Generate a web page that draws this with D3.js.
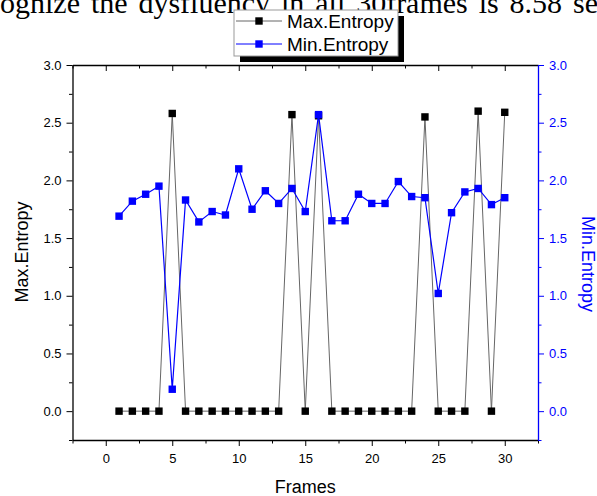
<!DOCTYPE html>
<html>
  <head>
    <meta charset="utf-8">
    <script src="https://d3js.org/d3.v7.min.js"></script>
    <title>Max / Min Entropy</title>
    <style>
      body { margin: 0; background: #fff; }
      svg { display: block; }
      .tick text { font-family: "Liberation Sans", Arial, sans-serif; font-size: 13px; }
    </style>
  </head>
  <body>
    <svg width="597" height="496"></svg>
    <script>
      // data
      const frames = [1, 2, 3, 4, 5, 6, 7, 8, 9, 10, 11, 12, 13, 14, 15,
                      16, 17, 18, 19, 20, 21, 22, 23, 24, 25, 26, 27, 28, 29, 30];
      const maxEntropy = [0, 0, 0, 0, 2.58, 0, 0, 0, 0, 0, 0, 0, 0, 2.57, 0,
                          2.56, 0, 0, 0, 0, 0, 0, 0, 2.55, 0, 0, 0, 2.60, 0, 2.59];
      const minEntropy = [1.69, 1.82, 1.88, 1.95, 0.19, 1.83, 1.64, 1.73, 1.70, 2.10, 1.75, 1.91, 1.80, 1.93, 1.73,
                          2.57, 1.65, 1.65, 1.88, 1.80, 1.80, 1.99, 1.86, 1.85, 1.02, 1.72, 1.90, 1.93, 1.79, 1.85];
      const xTicks = [0, 5, 10, 15, 20, 25, 30];
      const yTicks = [0, 0.5, 1.0, 1.5, 2.0, 2.5, 3.0];
      const seriesNames = ['Max.Entropy', 'Min.Entropy'];
      const topLine = ['ognize', 'the', 'dysfluency', 'in', 'all', '30frames', 'is', '8.58', 'se'];

      const blue = '#0000ff';
      const sans = '"Liberation Sans", Arial, sans-serif';
      const plot = { left: 72.5, right: 538, top: 65, bottom: 440 };

      const svg = d3.select('svg');

      // clipped line of body text above the figure
      const lineG = svg.append('g');
      const words = lineG.selectAll('text').data(topLine)
        .enter().append('text')
          .attr('y', 13)
          .style('font-family', '"Liberation Serif", "Times New Roman", serif')
          .style('font-size', '30px')
          .text(d => d);
      const widths = [];
      words.each(function() { widths.push(this.getComputedTextLength()); });
      const gap = (598 - d3.sum(widths)) / (topLine.length - 1);
      let cx = 0;
      words.attr('x', (d, i) => { const v = cx; cx += widths[i] + gap; return v; });

      const x = d3.scaleLinear().domain([-2.5, 32.5]).range([plot.left, plot.right]);
      const yL = d3.scaleLinear().domain([-0.25, 3.0]).range([plot.bottom, plot.top]);
      const yR = d3.scaleLinear().domain([-0.25, 3.0]).range([plot.bottom, plot.top]);

      const xMinor = d3.range(-2.5, 33, 2.5).filter(v => v % 5 !== 0);
      const yMinor = d3.range(-0.25, 3.01, 0.25).filter(v => Math.abs(v * 2 - Math.round(v * 2)) > 1e-6);

      function minorAxis(g, axis, color) {
        g.call(axis.tickFormat(''));
        g.select('.domain').remove();
        g.selectAll('line').attr('stroke', color);
      }

      // bottom axis
      const bottomG = svg.append('g').attr('transform', `translate(0,${plot.bottom})`);
      bottomG.call(d3.axisBottom(x).tickValues(xTicks).tickSize(6).tickSizeOuter(0).tickPadding(8).tickFormat(d3.format('d')));
      bottomG.append('g').call(g => minorAxis(g, d3.axisBottom(x).tickValues(xMinor).tickSize(3.5), '#000'));

      // top axis, ticks inward
      const topG = svg.append('g').attr('transform', `translate(0,${plot.top})`);
      topG.call(d3.axisTop(x).tickValues(xTicks).tickSize(-6).tickSizeOuter(0).tickFormat(''));
      topG.append('g').call(g => minorAxis(g, d3.axisTop(x).tickValues(xMinor).tickSize(-3.5), '#000'));

      // left axis
      const leftG = svg.append('g').attr('transform', `translate(${plot.left},0)`);
      leftG.call(d3.axisLeft(yL).tickValues(yTicks).tickSize(6).tickSizeOuter(0).tickPadding(5).tickFormat(d3.format('.1f')));
      leftG.append('g').call(g => minorAxis(g, d3.axisLeft(yL).tickValues(yMinor).tickSize(3.5), '#000'));

      // right axis (blue)
      const rightG = svg.append('g').attr('transform', `translate(${plot.right},0)`);
      rightG.call(d3.axisRight(yR).tickValues(yTicks).tickSize(6).tickSizeOuter(0).tickPadding(5).tickFormat(d3.format('.1f')));
      rightG.selectAll('.domain, line').attr('stroke', blue);
      rightG.selectAll('text').attr('fill', blue);
      rightG.append('g').call(g => minorAxis(g, d3.axisRight(yR).tickValues(yMinor).tickSize(3.5), blue));

      svg.selectAll('.domain').attr('stroke-width', 1.3);

      // axis titles
      svg.append('text')
          .attr('x', (plot.left + plot.right) / 2)
          .attr('y', 493)
          .attr('text-anchor', 'middle')
          .style('font-family', sans).style('font-size', '18px')
          .text('Frames');
      svg.append('text')
          .attr('transform', 'translate(27.5,252) rotate(-90)')
          .attr('text-anchor', 'middle')
          .style('font-family', sans).style('font-size', '18px')
          .text(seriesNames[0]);
      svg.append('text')
          .attr('transform', 'translate(581.5,264) rotate(90)')
          .attr('text-anchor', 'middle')
          .attr('fill', blue)
          .style('font-family', sans).style('font-size', '18px')
          .text(seriesNames[1]);

      // series
      const maxData = frames.map((f, i) => ({ f, v: maxEntropy[i] }));
      const minData = frames.map((f, i) => ({ f, v: minEntropy[i] }));

      const lineL = d3.line().x(d => x(d.f)).y(d => yL(d.v));
      const lineR = d3.line().x(d => x(d.f)).y(d => yR(d.v));

      const maxG = svg.append('g');
      maxG.append('path').datum(maxData)
          .attr('d', lineL).attr('fill', 'none').attr('stroke', '#666').attr('stroke-width', 1);
      maxG.selectAll('rect').data(maxData)
        .enter().append('rect')
          .attr('x', d => x(d.f) - 3.7).attr('y', d => yL(d.v) - 3.7)
          .attr('width', 7.4).attr('height', 7.4)
          .attr('fill', '#000');

      const minG = svg.append('g');
      minG.append('path').datum(minData)
          .attr('d', lineR).attr('fill', 'none').attr('stroke', blue).attr('stroke-width', 1.2);
      minG.selectAll('rect').data(minData)
        .enter().append('rect')
          .attr('x', d => x(d.f) - 3.7).attr('y', d => yR(d.v) - 3.7)
          .attr('width', 7.4).attr('height', 7.4)
          .attr('fill', blue);

      // legend with drop shadow
      const legendG = svg.append('g').attr('transform', 'translate(234,10)');
      legendG.append('rect')
          .attr('x', 6).attr('y', 6).attr('width', 164).attr('height', 46)
          .attr('fill', '#000');
      legendG.append('rect')
          .attr('x', 0).attr('y', 0).attr('width', 164).attr('height', 46)
          .attr('fill', '#fff').attr('stroke', '#999').attr('stroke-width', 1);
      const legendColors = ['#666', blue];
      const markColors = ['#000', blue];
      const rows = legendG.selectAll('.row').data(seriesNames)
        .enter().append('g')
          .attr('class', 'row')
          .attr('transform', (d, i) => `translate(0,${11 + i * 23})`);
      rows.append('line')
          .attr('x1', 2).attr('x2', 48)
          .attr('stroke', (d, i) => legendColors[i]).attr('stroke-width', 1);
      rows.append('rect')
          .attr('x', 25 - 3.7).attr('y', -3.7).attr('width', 7.4).attr('height', 7.4)
          .attr('fill', (d, i) => markColors[i]);
      rows.append('text')
          .attr('x', 53).attr('dy', '0.35em')
          .style('font-family', sans).style('font-size', '19px')
          .text(d => d);
    </script>
  </body>
</html>
